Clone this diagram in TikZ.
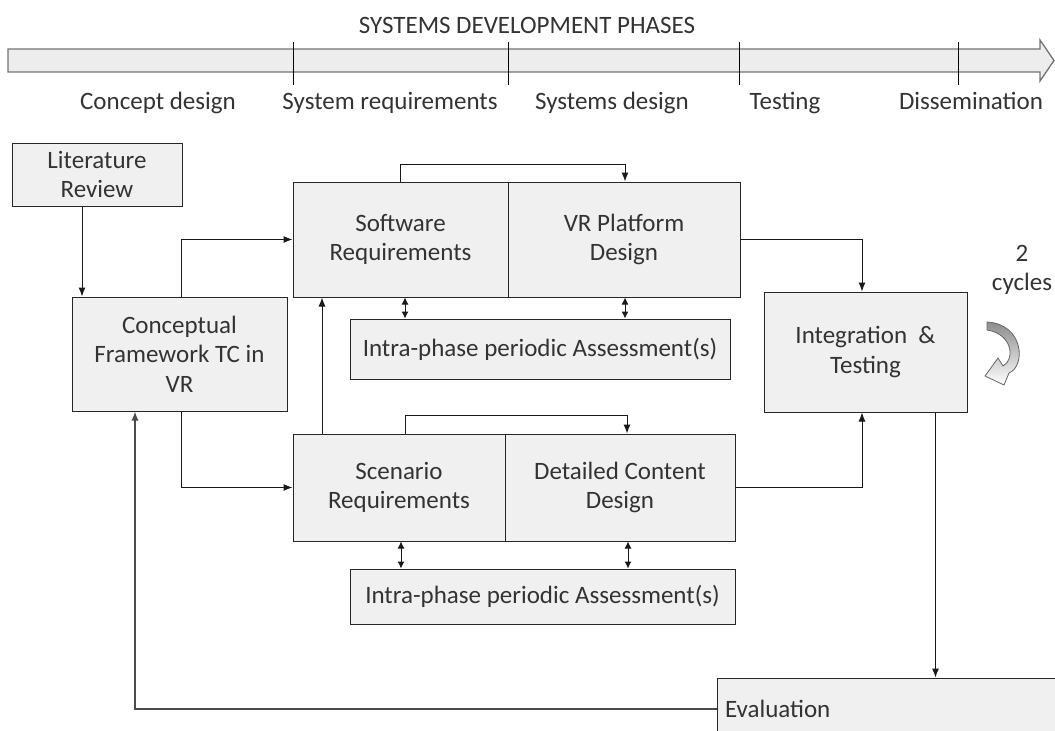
\documentclass[tikz,border=0pt]{standalone}
\usepackage{fontspec}
\setmainfont{Carlito}
\usetikzlibrary{arrows.meta}
\begin{document}
\begin{tikzpicture}[x=1pt,y=-1pt,
  box/.style={draw=black!85,line width=1pt,fill=black!6,align=center,inner sep=0pt,font=\fontsize{25}{29.5}\selectfont,text=black!80},
  arr/.style={draw=black!90,line width=1pt,-{Latex[length=9pt,width=7pt]}},
  darr/.style={draw=black!90,line width=1pt,{Latex[length=7pt,width=7pt]}-{Latex[length=7pt,width=7pt]}},
  lab/.style={font=\fontsize{25}{29.5}\selectfont,text=black!80},
  ph/.style={lab,text height=17pt,text depth=5pt}]
\useasboundingbox (0,0) rectangle (1055,731);
% phase arrow
\filldraw[fill=black!7,draw=black!55,line width=1.3pt]
  (8,49) -- (1040,49) -- (1040,40) -- (1054,60.5) -- (1040,81) -- (1040,72) -- (8,72) -- cycle;
\foreach \xx in {293,508,739,958} \draw[black,line width=0.8pt] (\xx,42) -- (\xx,85);
\node[ph] (title) at (527,27) {SYSTEMS DEVELOPMENT PHASES};
\node[ph] (p1) at (158,103) {Concept design};
\node[ph] (p2) at (390,103) {System requirements};
\node[ph] (p3) at (612,103) {Systems design};
\node[ph] (p4) at (785,103) {Testing};
\node[ph] (p5) at (971,103) {Dissemination};
% boxes
\node[box,minimum width=170,minimum height=63] (lit) at (97,174.5) {Literature\\Review};
\node[box,minimum width=215,minimum height=114] (conc) at (179.5,354) {Conceptual\\Framework TC in\\VR};
\node[box,minimum width=215,minimum height=115] (sw) at (400.5,239.5) {Software\\Requirements};
\node[box,minimum width=232,minimum height=115] (vr) at (624,239.5) {VR Platform\\Design};
\node[box,minimum width=380,minimum height=60] (ia) at (540,349) {Intra-phase periodic Assessment(s)};
\node[box,minimum width=203,minimum height=120] (int) at (865.5,352) {Integration~~\&\\Testing};
\node[box,minimum width=212,minimum height=107] (sc) at (399,487.5) {Scenario\\Requirements};
\node[box,minimum width=230,minimum height=107] (dc) at (620,487.5) {Detailed Content\\Design};
\node[box,minimum width=385,minimum height=55] (ib) at (542.5,596.5) {Intra-phase periodic Assessment(s)};
\node[box,minimum width=350,minimum height=62,text width=334,align=left] (ev) at (892,709) {Evaluation};
% cycles
\node[lab,align=center] (cyc) at (1022,270) {2\\cycles};
\shadedraw[top color=black!45,bottom color=white,draw=black!60,line width=0.8pt]
  (987,322) .. controls (1024,324) and (1026,366) .. (1009,373)
  -- (1004,385) -- (985,376) -- (998,358) -- (1003,366)
  .. controls (1015,360) and (1013,334) .. (987,330) -- cycle;
% connectors
\draw[arr] ([xshift=-15pt]lit.south) -- ([xshift=-15pt]lit.south |- conc.north);
\draw[arr] ([xshift=1.5pt]conc.north) |- (sw.west);
\draw[arr] ([xshift=1.5pt]conc.south) |- (sc.west);
\draw[arr] (sw.north) -- ++(0,-17) -| ([xshift=1pt]vr.north);
\draw[arr] ([xshift=6pt]sc.north) -- ++(0,-18) -| ([xshift=7pt]dc.north);
\draw[arr] ([xshift=-77pt]sc.north) -- ([xshift=-77pt]sc.north |- sw.south);
\draw[darr] ([xshift=4.5pt]sw.south) -- ([xshift=4.5pt]sw.south |- ia.north);
\draw[darr] ([xshift=1pt]vr.south) -- ([xshift=1pt]vr.south |- ia.north);
\draw[darr] ([xshift=2pt]sc.south) -- ([xshift=2pt]sc.south |- ib.north);
\draw[darr] ([xshift=8pt]dc.south) -- ([xshift=8pt]dc.south |- ib.north);
\draw[arr] (vr.east) -| ([xshift=-3.5pt]int.north);
\draw[arr] (dc.east) -| ([xshift=-3.5pt]int.south);
\draw[arr] ([xshift=70pt]int.south) -- ([xshift=70pt]int.south |- ev.north);
\draw[arr,draw=black!70,line width=1.3pt] (ev.west) -| ([xshift=-44.5pt]conc.south);
\end{tikzpicture}
\end{document}
